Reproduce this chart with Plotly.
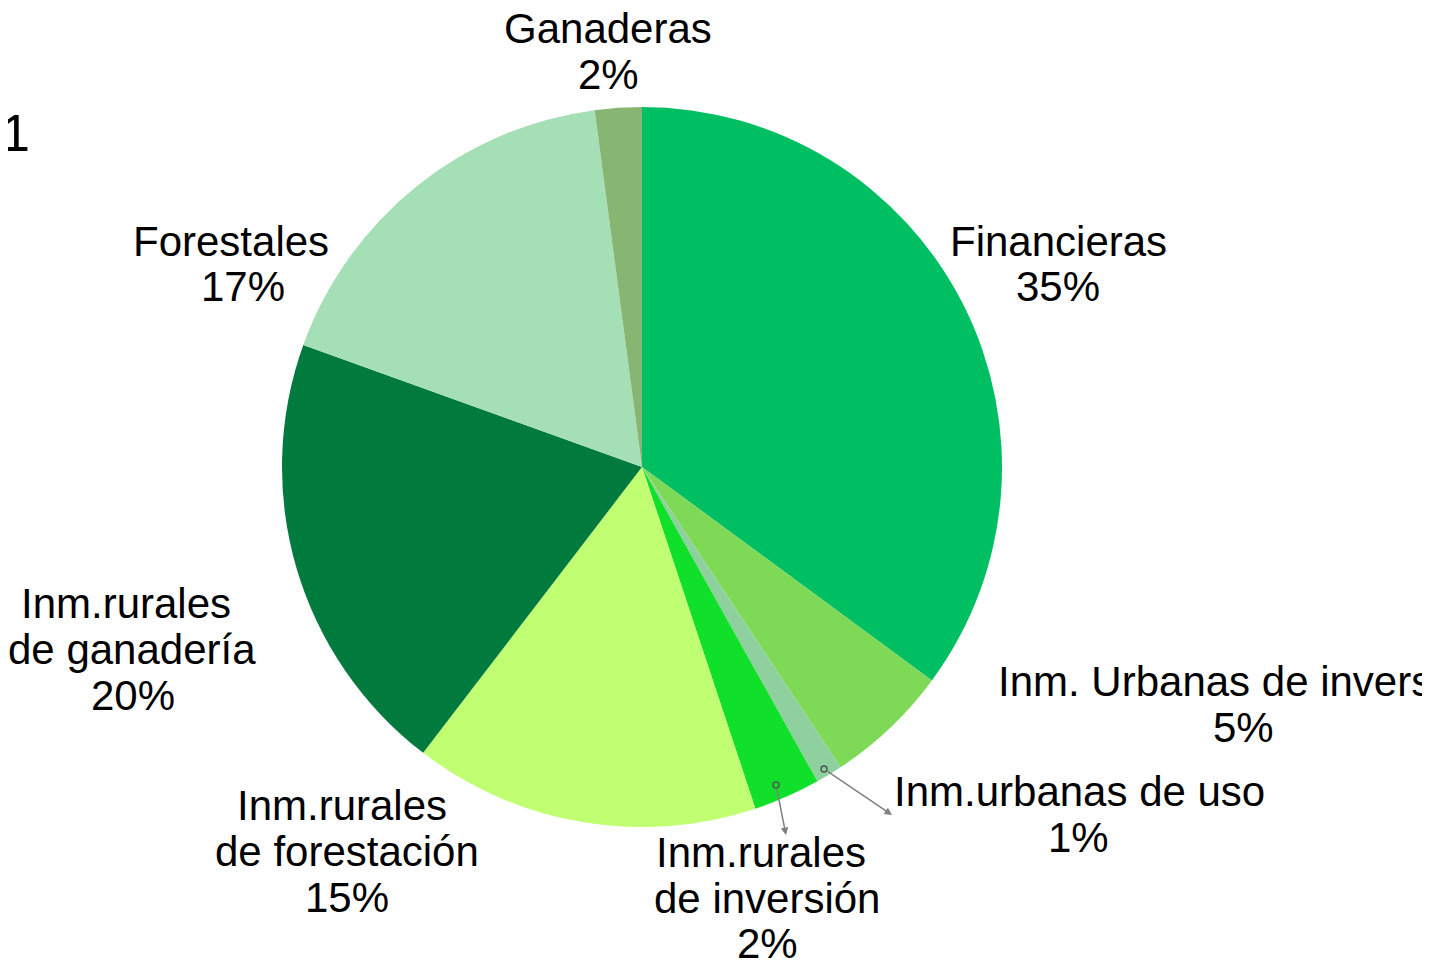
import plotly.graph_objects as go

categories = ["Financieras", "Inm. Urbanas de inversión", "Inm.urbanas de uso",
              "Inm.rurales de inversión", "Inm.rurales de forestación",
              "Inm.rurales de ganadería", "Forestales", "Ganaderas"]
values = [35.1, 5.6, 1.2, 3.0, 15.5, 20.1, 17.4, 2.1]
pct_labels = ["35%", "5%", "1%", "2%", "15%", "20%", "17%", "2%"]
colors = ["#00BF63", "#7ED957", "#8FD19E", "#10E02A", "#C1FF72",
          "#007A3D", "#A4DFB5", "#86B672"]

W, H = 1430, 963
OFF = 8  # page body margin offset
FONT = dict(family="Liberation Sans, Arial, sans-serif", size=42, color="black")

cx, cy, r = 642 - OFF, 467 - OFF, 360


def px(x):
    return (x - OFF) / W


def py(y):
    return 1 - (y - OFF) / H


fig = go.Figure(go.Pie(
    labels=categories, values=values, sort=False, direction="clockwise",
    rotation=0, marker=dict(colors=colors, line=dict(width=0)),
    textinfo="none", hoverinfo="label+percent", showlegend=False,
    domain=dict(x=[(cx - r) / W, (cx + r) / W],
                y=[(H - cy - r) / H, (H - cy + r) / H]),
))

# label lines: (category index, [(line text, center x, center y), ...])
label_layout = [
    (0, [("Financieras", 1058, 241)]),
    (1, [("Inm. Urbanas de inversión", 1243, 681)]),
    (2, [("Inm.urbanas de uso", 1079, 791)]),
    (3, [("Inm.rurales", 761, 852), ("de inversión", 767, 898)]),
    (4, [("Inm.rurales", 342, 805), ("de forestación", 347, 851)]),
    (5, [("Inm.rurales", 126, 603), ("de ganadería", 132, 649)]),
    (6, [("Forestales", 231, 241)]),
    (7, [("Ganaderas", 608, 28)]),
]
pct_pos = [(1058, 287), (1243, 727), (1078, 837), (767, 943), (347, 897),
           (133, 695), (243, 287), (608, 74)]

annotations = []
for idx, lines in label_layout:
    for txt, x, y in lines:
        annotations.append(dict(text=txt, x=px(x), y=py(y), xref="paper", yref="paper",
                                xanchor="center", yanchor="middle", showarrow=False,
                                font=FONT))
    x, y = pct_pos[idx]
    annotations.append(dict(text=pct_labels[idx], x=px(x), y=py(y), xref="paper",
                            yref="paper", xanchor="center", yanchor="middle",
                            showarrow=False, font=FONT))

# leader lines for small slices
leaders = [((776, 785), (786, 835)), ((824, 769), (892, 815))]
shapes = []
for (sx, sy), (ex, ey) in leaders:
    annotations.append(dict(x=px(ex), y=py(ey), ax=sx - ex, ay=sy - ey, xref="paper",
                            yref="paper", axref="pixel", ayref="pixel", text="",
                            showarrow=True, arrowhead=2, arrowsize=1, arrowwidth=1.5,
                            arrowcolor="#7f7f7f", standoff=0, startstandoff=3))
    shapes.append(dict(type="circle", xref="paper", yref="paper",
                       x0=px(sx - 3), x1=px(sx + 3), y0=py(sy + 3), y1=py(sy - 3),
                       line=dict(color="#555555", width=1.5), fillcolor="rgba(0,0,0,0)"))

# clipped title fragment at top-left
annotations.append(dict(text="1", x=px(15), y=py(133), xref="paper", yref="paper",
                        xanchor="center", yanchor="middle", showarrow=False,
                        font=dict(family="Liberation Sans, Arial, sans-serif", size=52,
                                  color="black")))

fig.update_layout(width=W, height=H, margin=dict(l=0, r=0, t=0, b=0),
                  paper_bgcolor="white", plot_bgcolor="white",
                  annotations=annotations, shapes=shapes)

fig.write_html("out.html")
